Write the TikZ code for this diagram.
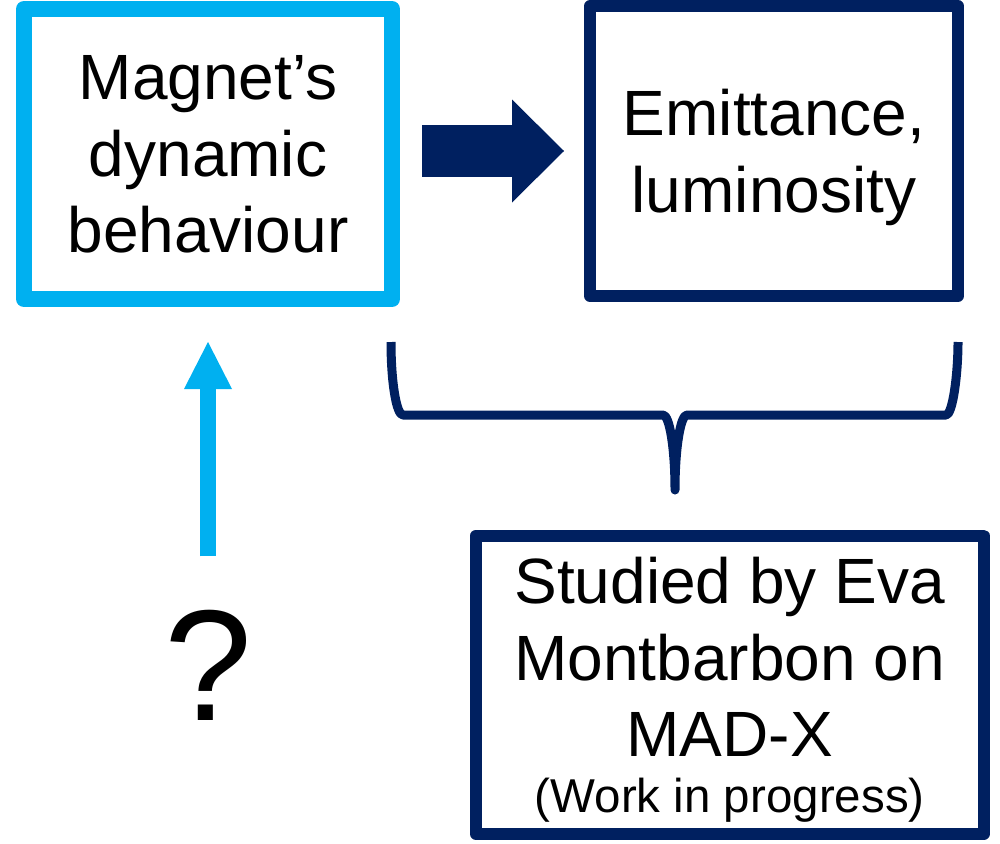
\documentclass[tikz,border=0pt]{standalone}
\usepackage{fontspec}
\setmainfont{Liberation Sans}
\usetikzlibrary{arrows.meta}
\definecolor{lblue}{HTML}{00B0F0}
\definecolor{navy}{HTML}{002060}
\tikzset{
  boxbase/.style={draw, line join=round, inner sep=0pt, align=center, text depth=0pt,
    font=\fontsize{64pt}{76.5pt}\selectfont},
  lightbox/.style={boxbase, draw=lblue, line width=16pt},
  navybox/.style={boxbase, draw=navy, line width=12pt},
  bluearrow/.style={draw=lblue, line width=16pt,
    -{Triangle[width=48pt,length=47pt,line width=0pt]}},
  blockarrow/.style={draw=navy, line width=52pt,
    -{Triangle[width=103pt,length=52pt,line width=0pt]}},
  bracestyle/.style={draw=navy, line width=9pt, line join=round}
}
\begin{document}
\begin{tikzpicture}[x=1pt,y=-1pt]
\useasboundingbox (0,0) rectangle (1000,843);
\node[lightbox, minimum width=368pt, minimum height=290pt] (m1) at (208,154)
  {Magnet’s\\dynamic\\behaviour};
\node[navybox, minimum width=368pt, minimum height=290pt] (m2) at (774,151)
  {Emittance,\\luminosity};
\node[navybox, minimum width=507.5pt, minimum height=298.5pt] (m3) at (729.75,684.75)
  {\fontsize{64pt}{76pt}\selectfont Studied by Eva\\Montbarbon on\\MAD-X\\[-21pt]{\fontsize{47.5pt}{55pt}\selectfont (Work in progress)}};
\node[inner sep=0pt, anchor=base, font=\fontsize{158pt}{160pt}\selectfont] (q) at (208,720) {?};
% connectors
\draw[blockarrow, shorten <=22pt, shorten >=20pt] (m1.east |- m2.west) -- (m2.west);
\draw[bluearrow, shorten <=53pt, shorten >=35pt] (q.north) -- (q.north |- m1.south);
% brace
\draw[bracestyle] (391,342) .. controls (391,382.3) and (396.4,415) .. (403,415)
  -- (663,415) .. controls (669.6,415) and (675,448.6) .. (675,490)
  .. controls (675,448.6) and (680.4,415) .. (687,415)
  -- (946,415) .. controls (952.6,415) and (958,374.7) .. (958,342);
\end{tikzpicture}
\end{document}
